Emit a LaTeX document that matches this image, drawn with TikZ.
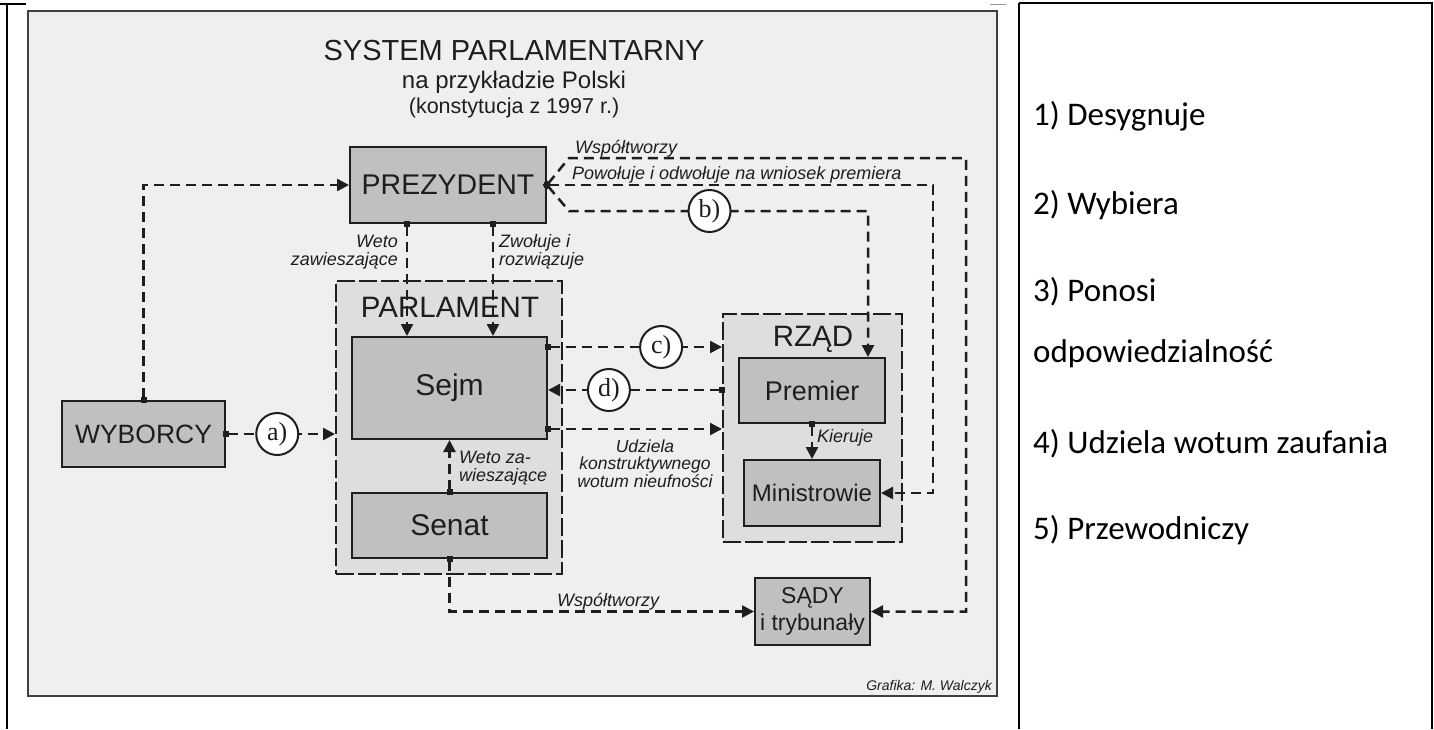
\documentclass[tikz,border=0pt]{standalone}
\usepackage{fontspec}
\setmainfont{Liberation Sans}
\newfontfamily\serifc{Liberation Serif}
\newfontfamily\calib{Carlito}
\usetikzlibrary{arrows.meta,calc}
\definecolor{bgg}{HTML}{EFEFEF}
\definecolor{boxg}{HTML}{C0C0C0}
\definecolor{contg}{HTML}{DEDEDE}
\definecolor{ink}{HTML}{1E1E1E}
\newcommand\fsz[2]{\fontsize{#1}{#2}\selectfont}
\begin{document}
\begin{tikzpicture}[x=1pt,y=-1pt,
  box/.style={draw=ink, line width=2pt, fill=boxg, inner sep=0pt, text=ink},
  cont/.style={draw=ink, line width=2pt, fill=contg, dash pattern=on 18pt off 4pt, inner sep=0pt},
  conn/.style={draw=ink, line width=2.5pt, dash pattern=on 10pt off 6pt, shorten <=-3pt,
    {Square[length=6pt,width=6pt]}-{Triangle[length=12pt,width=12pt]}},
  circ/.style={circle, draw=ink, line width=2pt, fill=white, solid, minimum size=42pt,
    inner sep=0pt, font=\serifc\fsz{26}{26}, text=ink},
  lab/.style={font=\itshape\fsz{18}{17.5}, text=ink, inner sep=0pt},
  ttl/.style={text=ink, inner sep=0pt},
  rcol/.style={font=\calib\fsz{33}{36}, text=black, inner sep=0pt, anchor=west}]
\useasboundingbox (0,0) rectangle (1434,729);
\fill[white] (0,0) rectangle (1434,729);
% table lines
\draw[black, line width=2pt] (0,4) -- (26,4);
\draw[black!40, line width=1pt] (990,4) -- (1006,4);
\draw[black, line width=2pt] (7,4) -- (7,729);
\draw[black, line width=2pt] (1019,3) -- (1433,3);
\draw[black, line width=2pt] (1019,3) -- (1019,729);
\draw[black, line width=2pt] (1432,3) -- (1432,729);
% frame
\node[draw=ink!85, line width=2.5pt, fill=bgg, minimum width=969pt, minimum height=685pt, inner sep=0pt] (frame) at (512.5,353.5) {};
% title
\node[ttl, anchor=base, font=\fsz{29}{29}] (t1) at (514,60) {SYSTEM PARLAMENTARNY};
\node[ttl, anchor=base, font=\fsz{24}{24}] (t2) at (514,88) {na przykładzie Polski};
\node[ttl, anchor=base, font=\fsz{21.5}{21.5}] (t3) at (514,113) {(konstytucja z 1997 r.)};
% containers
\node[cont, minimum width=226pt, minimum height=293pt] (parl) at (449,427.5) {};
\node[ttl, anchor=base, font=\fsz{29.5}{29.5}] (parlt) at (450,317) {PARLAMENT};
\node[cont, minimum width=179pt, minimum height=228pt] (rzad) at (812.5,428) {};
\node[ttl, anchor=base, font=\fsz{29.5}{29.5}] (rzadt) at (813,346) {RZĄD};
% boxes
\node[box, minimum width=196pt, minimum height=76pt, font=\fsz{28.5}{28.5}] (prez) at (448,185) {PREZYDENT};
\node[box, minimum width=163pt, minimum height=66pt, font=\fsz{26.5}{26.5}] (wyb) at (143.5,434) {WYBORCY};
\node[box, minimum width=195pt, minimum height=102pt, font=\fsz{30}{30}] (sejm) at (449.5,388) {Sejm};
\node[box, minimum width=195pt, minimum height=65pt, font=\fsz{30}{30}] (senat) at (449.5,525.5) {Senat};
\node[box, minimum width=146pt, minimum height=65pt, font=\fsz{27}{27}] (prem) at (812,390.5) {Premier};
\node[box, minimum width=136pt, minimum height=66pt, font=\fsz{24}{24}] (min) at (812,493) {Ministrowie};
\node[box, minimum width=115pt, minimum height=67pt, font=\fsz{23}{27}, align=center] (sady) at (812.5,611.5) {SĄDY\\i trybunały};
% coordinates
\coordinate (v1) at ([xshift=-41pt]prez.south);
\coordinate (v2) at ([xshift=45pt]prez.south);
\coordinate (c1) at ([yshift=41pt]sejm.east);
\coordinate (d1) at ([yshift=38pt]rzad.west);
\coordinate (u1) at ([yshift=-41pt]sejm.east);
\coordinate (wt) at (966,158);
\coordinate (pw) at (933,185);
\coordinate (bc) at (868,211);
% connectors
\draw[conn] (wyb.north) |- (prez.west);
\draw[conn] (wyb.east) -- node[circ, pos=.47] (la) {a)} (wyb.east -| parl.west);
\draw[conn] (v1) -- (v1 |- sejm.north);
\draw[conn] (v2) -- (v2 |- sejm.north);
\draw[conn] (senat.north) -- (sejm.south);
\draw[conn] (c1) -- node[circ, pos=.65] (lc) {c)} (c1 -| rzad.west);
\draw[conn] (d1) -- node[circ, pos=.65] (ld) {d)} (d1 -| sejm.east);
\draw[conn] (u1) -- (u1 -| rzad.west);
\draw[conn] (prem.south) -- (min.north);
\draw[conn] (prez.east) -- ++(22,-27) -- (wt) |- (sady.east);
\draw[conn] (prez.east) -- (pw) |- (min.east);
\draw[conn] (prez.east) -- ++(22,26) -- node[circ, pos=.47] (lb) {b)} (bc) -- (bc |- prem.north);
\draw[conn] (senat.south) |- (sady.west);
% labels
\node[lab, anchor=east, align=right] (l1) at (398,252) {Weto\\zawieszające};
\node[lab, anchor=west, align=left] (l2) at (499,252) {Zwołuje i\\rozwiązuje};
\node[lab, anchor=west, align=left] (l3) at (459,468) {Weto za-\\wieszające};
\node[lab, align=center, font=\itshape\fsz{17.5}{17.5}] (l4) at (645,463.5) {Udziela\\konstruktywnego\\wotum nieufności};
\node[lab, anchor=west] (l5) at (817,438) {Kieruje};
\node[lab, anchor=base west] (l6) at (575,153) {Współtworzy};
\node[lab, anchor=base west] (l7) at (572,179) {Powołuje i odwołuje na wniosek premiera};
\node[lab, anchor=base west] (l8) at (557,606) {Współtworzy};
\node[lab, anchor=base east, font=\itshape\fsz{14}{14}] (l9) at (992,690) {Grafika: M. Walczyk};
% right column
\node[rcol] (r1) at (1033,116) {1) Desygnuje};
\node[rcol] (r2) at (1033,205) {2) Wybiera};
\node[rcol] (r3) at (1033,292) {3) Ponosi};
\node[rcol] (r4) at (1033,354) {odpowiedzialność};
\node[rcol] (r5) at (1033,444) {4) Udziela wotum zaufania};
\node[rcol] (r6) at (1033,530) {5) Przewodniczy};
\end{tikzpicture}
\end{document}
